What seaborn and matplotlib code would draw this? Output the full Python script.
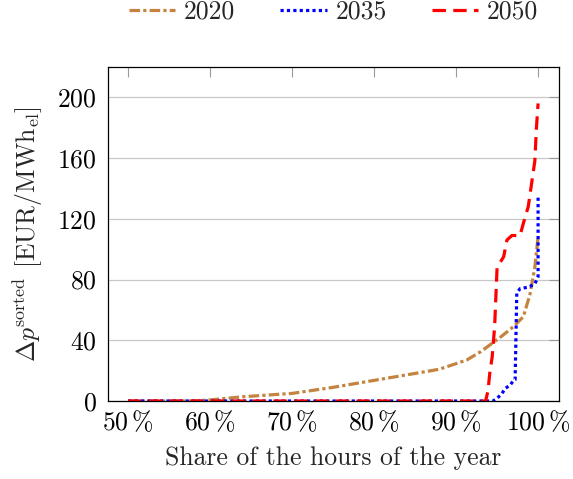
import matplotlib
matplotlib.use("Agg")
import matplotlib.pyplot as plt
import seaborn as sns
import pandas as pd

# ---- data ----
x_2020 = [50, 58, 60, 64, 70, 75, 81, 87, 88, 91.3, 93, 95.4, 97, 98.2, 99, 99.6, 100]
y_2020 = [0, 0, 0.7, 2.8, 5, 9, 14.5, 20, 21, 27, 32.5, 42, 49, 55.5, 70, 88, 108]

x_2035 = [50, 94.5, 95, 95.6, 96, 96.6, 97.0, 97.2, 97.4, 97.8, 98.8, 99.6, 100, 100]
y_2035 = [0, 0, 1.7, 5, 8.3, 10.5, 13.5, 14, 71, 74, 75, 77, 82, 134]

x_2050 = [50, 93.6, 93.9, 94.1, 94.4, 94.7, 95.0, 95.8, 96.2, 96.8, 97.8, 98.2, 98.8, 99.2, 99.6, 99.8, 100]
y_2050 = [0, 0, 7, 18, 29, 49, 88, 95, 106, 109, 109, 117, 128, 143, 158, 180, 196]

series_names = ["2020", "2035", "2050"]
x_ticks = [50, 60, 70, 80, 90, 100]
y_ticks = [0, 40, 80, 120, 160, 200]

sns.set_style("white")
plt.rcParams["font.family"] = ["cmr10"]
plt.rcParams["mathtext.fontset"] = "cm"
plt.rcParams["axes.unicode_minus"] = False
plt.rcParams["axes.formatter.use_mathtext"] = True

FS = 18.5

fig = plt.figure(figsize=(5.73, 4.79), dpi=100)
ax = fig.add_axes([108 / 573, 1 - 401 / 479, (559 - 108) / 573, (401 - 67) / 479])

styles = {
    "2020": dict(color="#C4843F", dashes=(3.3, 1.0, 1.0, 1.0)),
    "2035": dict(color="#0000FF", dashes=(1.0, 1.0)),
    "2050": dict(color="#FF0000", dashes=(4.2, 2.3)),
}
data = {"2020": (x_2020, y_2020), "2035": (x_2035, y_2035), "2050": (x_2050, y_2050)}

for name in series_names:
    xs, ys = data[name]
    df = pd.DataFrame({"x": xs, "y": ys})
    sns.lineplot(data=df, x="x", y="y", ax=ax, estimator=None, sort=False,
                 color=styles[name]["color"], lw=2.3, label=name)
    line = ax.lines[-1]
    line.set_dashes(styles[name]["dashes"])
    line.set_dash_capstyle("butt")

ax.set_xlim(47.55, 102.55)
ax.set_ylim(0, 220)
ax.set_xticks(x_ticks)
ax.set_xticklabels([rf"${t}\,\%$" for t in x_ticks])
ax.set_yticks(y_ticks)
ax.set_yticklabels([rf"${t}$" for t in y_ticks])
ax.tick_params(axis="both", which="major", direction="in", length=7, width=0.8,
               color="#9a9a9a", labelsize=FS, top=True, right=True, labelcolor="black")
ax.tick_params(axis="x", pad=6)
ax.tick_params(axis="y", pad=8)
ax.yaxis.grid(True, color="#c8c8c8", lw=0.9)
ax.xaxis.grid(False)
ax.set_axisbelow(True)
for s in ax.spines.values():
    s.set_color("black")
    s.set_linewidth(0.9)

ax.set_xlabel("Share of the hours of the year", fontsize=FS, labelpad=8)
ax.set_ylabel(r"$\Delta p^{\mathrm{sorted}}$ [EUR/MWh$_{\mathrm{el}}$]", fontsize=FS, labelpad=9)

ax.legend(loc="center", bbox_to_anchor=(0.5, 1 + 55 / 334), ncol=3, frameon=False,
          fontsize=FS, handlelength=1.8, handletextpad=0.35, columnspacing=1.75)

fig.savefig("out.png", dpi=100)
